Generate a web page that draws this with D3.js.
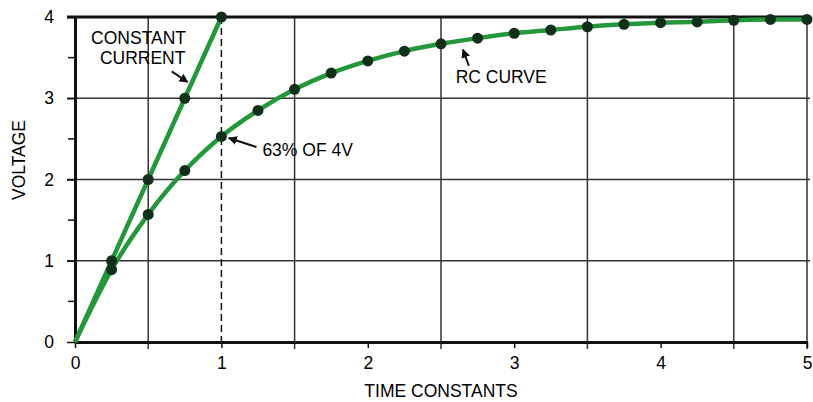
<!DOCTYPE html>
<html>
<head>
<meta charset="utf-8">
<script src="https://cdn.jsdelivr.net/npm/d3@7"></script>
<style>
  body { margin: 0; background: #fff; }
  text { font-family: "Liberation Sans", Arial, sans-serif; fill: #000; }
</style>
</head>
<body>
<div id="chart"></div>
<script>
// values
var ccTime = [0, 0.25, 0.5, 0.75, 1];
var ccVolts = [0, 1, 2, 3, 4];

var rcTime = [0, 0.25, 0.5, 0.75, 1, 1.25, 1.5, 1.75, 2, 2.25, 2.5, 2.75, 3,
              3.25, 3.5, 3.75, 4, 4.25, 4.5, 4.75, 5];
var rcVolts = [0, 0.89, 1.57, 2.11, 2.53, 2.85, 3.11, 3.31, 3.46, 3.58, 3.67, 3.74, 3.80,
               3.84, 3.88, 3.91, 3.93, 3.94, 3.96, 3.97, 3.97];

var xTicks = [0, 1, 2, 3, 4, 5];
var yTicks = [0, 1, 2, 3, 4];
var xGrid = [0.5, 1.5, 2.5, 3.5, 4.5, 5];
var yGrid = [1, 2, 3];
var yMinor = [0.5, 1.5, 2.5, 3.5];

var W = 813, H = 402;
var margin = { top: 17, right: 3, bottom: 60, left: 75 };
var width = W - margin.left - margin.right;
var height = H - margin.top - margin.bottom;

var green = "#23973a";
var dot = "#11301a";

var svg = d3.select("#chart").append("svg")
    .attr("width", W)
    .attr("height", H)
    .append("g")
    .attr("transform", "translate(" + margin.left + "," + margin.top + ")");

var x = d3.scaleLinear().domain([0, 5]).range([0, width - 3]);
var y = d3.scaleLinear().domain([0, 4]).range([height, 0]);

// grid
svg.selectAll(".vgrid").data(xGrid).enter().append("line")
    .attr("x1", function (d) { return x(d); })
    .attr("x2", function (d) { return x(d); })
    .attr("y1", y(4)).attr("y2", height + 7)
    .style("stroke", "#333").style("stroke-width", 1.5);

svg.selectAll(".hgrid").data(yGrid).enter().append("line")
    .attr("x1", -8).attr("x2", x(5) + 3)
    .attr("y1", function (d) { return y(d); })
    .attr("y2", function (d) { return y(d); })
    .style("stroke", "#333").style("stroke-width", 1.5);

// dashed line at one time constant
svg.append("line")
    .attr("x1", x(1)).attr("x2", x(1))
    .attr("y1", y(4)).attr("y2", y(0))
    .style("stroke", "#111").style("stroke-width", 1.5)
    .style("stroke-dasharray", "7,4");

// axes
var xAxis = d3.axisBottom(x).tickValues(xTicks).tickFormat(d3.format("d"))
    .tickSize(6).tickSizeOuter(0).tickPadding(9);
var yAxis = d3.axisLeft(y).tickValues(yTicks).tickFormat(d3.format("d"))
    .tickSize(8).tickSizeOuter(0).tickPadding(13);

var gX = svg.append("g").attr("class", "axis x")
    .attr("transform", "translate(0," + height + ")")
    .call(xAxis);
var gY = svg.append("g").attr("class", "axis y").call(yAxis);

svg.selectAll(".axis path").style("stroke", "#111").style("stroke-width", 3);
svg.selectAll(".axis line").style("stroke", "#111").style("stroke-width", 1.5);
svg.selectAll(".axis text").style("font-size", "17.5px")
    .style("font-family", "Liberation Sans, Arial, sans-serif").style("fill", "#000");

svg.selectAll(".minor").data(yMinor).enter().append("line")
    .attr("x1", -7).attr("x2", 0)
    .attr("y1", function (d) { return y(d); })
    .attr("y2", function (d) { return y(d); })
    .style("stroke", "#111").style("stroke-width", 1.5);

// top border
svg.append("line")
    .attr("x1", -8).attr("x2", x(5) + 3)
    .attr("y1", y(4)).attr("y2", y(4))
    .style("stroke", "#111").style("stroke-width", 3);

// axis titles
svg.append("text")
    .attr("x", x(2.5)).attr("y", height + 55)
    .style("text-anchor", "middle").style("font-size", "17.5px")
    .text("TIME CONSTANTS");

svg.append("text")
    .attr("transform", "rotate(-90)")
    .attr("x", -143).attr("y", -50)
    .style("text-anchor", "middle").style("font-size", "17.5px")
    .text("VOLTAGE");

// curves
var cc = ccTime.map(function (t, i) { return { t: t, v: ccVolts[i] }; });
var rc = rcTime.map(function (t, i) { return { t: t, v: rcVolts[i] }; });

var straight = d3.line()
    .x(function (d) { return x(d.t); })
    .y(function (d) { return y(d.v); });
var smooth = d3.line()
    .curve(d3.curveMonotoneX)
    .x(function (d) { return x(d.t); })
    .y(function (d) { return y(d.v); });

svg.append("path").datum(rc)
    .style("fill", "none").style("stroke", green).style("stroke-width", 4.5)
    .attr("d", smooth);
svg.append("path").datum(cc)
    .style("fill", "none").style("stroke", green).style("stroke-width", 4.5)
    .attr("d", straight);

svg.selectAll(".rcdot").data(rc.slice(1)).enter().append("circle")
    .attr("cx", function (d) { return x(d.t); })
    .attr("cy", function (d) { return y(d.v); })
    .attr("r", 5.5)
    .style("fill", dot);
svg.selectAll(".ccdot").data(cc.slice(1)).enter().append("circle")
    .attr("cx", function (d) { return x(d.t); })
    .attr("cy", function (d) { return y(d.v); })
    .attr("r", 5.5)
    .style("fill", dot);

// annotations
var defs = svg.append("defs");
defs.append("marker")
    .attr("id", "arrow")
    .attr("viewBox", "0 0 10 10")
    .attr("refX", 9).attr("refY", 5)
    .attr("markerWidth", 4.5).attr("markerHeight", 4.5)
    .attr("orient", "auto")
    .append("path")
    .attr("d", "M0,0 L10,5 L0,10 z")
    .style("fill", "#111");

function arrow(t1, v1, t2, v2) {
    svg.append("line")
        .attr("x1", x(t1)).attr("y1", y(v1))
        .attr("x2", x(t2)).attr("y2", y(v2))
        .style("stroke", "#111").style("stroke-width", 2)
        .attr("marker-end", "url(#arrow)");
}

function label(t, v, str) {
    svg.append("text")
        .attr("x", x(t)).attr("y", y(v))
        .style("font-size", "17.5px")
        .text(str);
}

label(0.11, 3.67, "CONSTANT");
label(0.17, 3.42, "CURRENT");
arrow(0.66, 3.33, 0.77, 3.20);

label(1.28, 2.29, "63% OF 4V");
arrow(1.24, 2.40, 1.05, 2.51);

label(2.60, 3.19, "RC CURVE");
arrow(2.69, 3.40, 2.65, 3.60);
</script>
</body>
</html>
